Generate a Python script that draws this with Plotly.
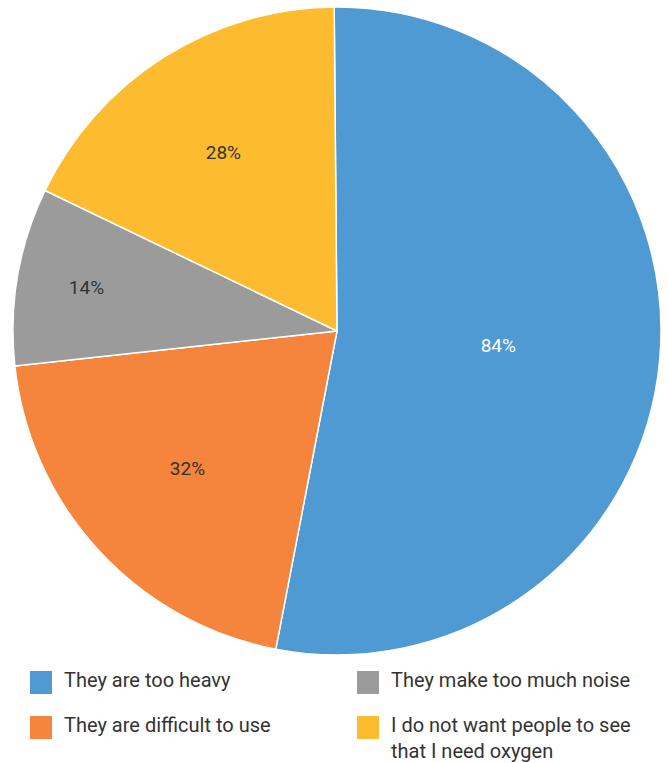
import plotly.graph_objects as go

labels = ["They are too heavy", "They are difficult to use", "They make too much noise",
          "I do not want people to see that I need oxygen"]
legend_text = ["They are too heavy", "They are difficult to use", "They make too much noise",
               "I do not want people to see<br>that I need oxygen"]
values = [84, 32, 14, 28]
text_labels = ["84%", "32%", "14%", "28%"]
colors = ["#4F9AD3", "#F5843D", "#9B9B9B", "#FDBB2F"]
text_colors = ["white", "#333333", "#333333", "#333333"]

W, H = 668, 763
FONT = "Roboto"

fig = go.Figure(go.Pie(
    labels=labels, values=values, text=text_labels, textinfo="text",
    sort=False, direction="clockwise", rotation=-0.5,
    marker=dict(colors=colors, line=dict(color="white", width=1.5)),
    textposition="inside", insidetextorientation="horizontal",
    textfont=dict(family=FONT, size=19, color=text_colors),
    domain=dict(x=[13 / W, 661 / W], y=[(H - 655) / H, (H - 7) / H]),
    showlegend=False, hoverinfo="label+text",
))

# custom legend (2 columns, column-major order)
shapes, annotations = [], []
pos = [(30, 671), (30, 716), (357, 671), (357, 716)]
for i, (x0, y0) in enumerate(pos):
    shapes.append(dict(type="rect", xref="paper", yref="paper",
                       x0=x0 / W, x1=(x0 + 22) / W, y0=1 - y0 / H, y1=1 - (y0 + 23) / H,
                       fillcolor=colors[i], line=dict(width=0)))
    annotations.append(dict(xref="paper", yref="paper", x=(x0 + 32) / W, y=1 - (y0 - 5) / H,
                            xanchor="left", yanchor="top", align="left", showarrow=False,
                            text=legend_text[i], font=dict(family=FONT, size=20, color="#333333")))

fig.update_layout(width=W, height=H, margin=dict(l=0, r=0, t=0, b=0),
                  paper_bgcolor="white", plot_bgcolor="white",
                  shapes=shapes, annotations=annotations)
fig.write_html("out.html", config={"displayModeBar": False},
               post_script="document.body.style.margin='0px';")
